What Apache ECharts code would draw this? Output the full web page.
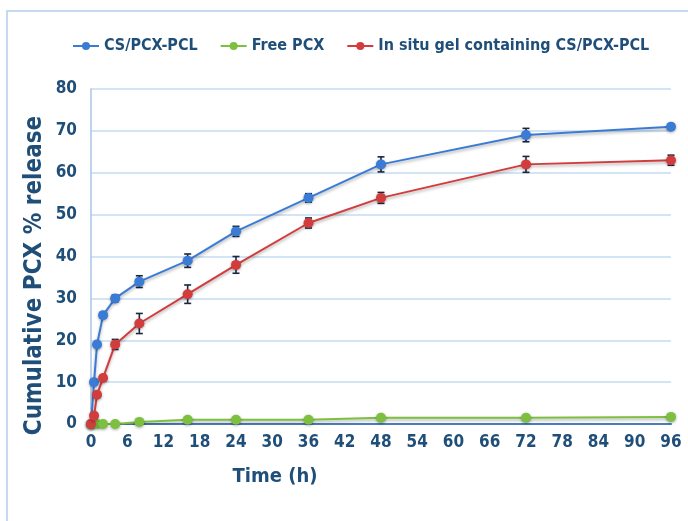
<!DOCTYPE html>
<html>
<head>
<meta charset="UTF-8">
<title>Cumulative PCX release</title>
<script src="https://cdn.jsdelivr.net/npm/echarts@6/dist/echarts.min.js"></script>
<style>
  html, body { margin: 0; padding: 0; background: #fff; }
  #chart { width: 688px; height: 521px; }
</style>
</head>
<body>
<div id="chart"></div>
<script>
// sampling times (h)
var timeBlue = [0, 0.5, 1, 2, 4, 8, 16, 24, 36, 48, 72, 96];
var valBlue  = [0, 10, 19, 26, 30, 34, 39, 46, 54, 62, 69, 71];
var errBlue  = [0, 0, 0, 0.6, 0.8, 1.4, 1.6, 1.2, 1.0, 1.8, 1.6, 0.6];

var timeRed = [0, 0.5, 1, 2, 4, 8, 16, 24, 36, 48, 72, 96];
var valRed  = [0, 2, 7, 11, 19, 24, 31, 38, 48, 54, 62, 63];
var errRed  = [0, 0, 0, 0.6, 1.2, 2.4, 2.2, 2.0, 1.2, 1.3, 1.9, 1.2];

var timeGreen = [0, 1, 2, 4, 8, 16, 24, 36, 48, 72, 96];
var valGreen  = [0, 0, 0, 0, 0.5, 1, 1, 1, 1.5, 1.5, 1.7];
var errGreen  = [0, 0, 0, 0, 0.4, 0.4, 0.4, 0.3, 0.3, 0.5, 0.3];

var names = ['CS/PCX-PCL', 'Free PCX', 'In situ gel containing CS/PCX-PCL'];
var colors = ['#3a7bd5', '#7dbf3f', '#d23c3c'];
var txt = '#1f4e79';
var font = "'DejaVu Sans Condensed', 'Liberation Sans Narrow', 'Noto Sans', sans-serif";

function pairs(t, v) {
  return t.map(function (x, i) { return [x, v[i]]; });
}
function errData(t, v, e) {
  return t.map(function (x, i) { return [x, v[i] - e[i], v[i] + e[i]]; });
}
function errSeries(t, v, e) {
  return {
    type: 'custom',
    silent: true,
    z: 3,
    data: errData(t, v, e),
    renderItem: function (params, api) {
      var lo = api.coord([api.value(0), api.value(1)]);
      var hi = api.coord([api.value(0), api.value(2)]);
      var w = 3.5;
      var st = { stroke: '#1a2740', lineWidth: 1.6 };
      return {
        type: 'group',
        children: [
          { type: 'line', shape: { x1: lo[0], y1: lo[1], x2: hi[0], y2: hi[1] }, style: st },
          { type: 'line', shape: { x1: lo[0] - w, y1: lo[1], x2: lo[0] + w, y2: lo[1] }, style: st },
          { type: 'line', shape: { x1: hi[0] - w, y1: hi[1], x2: hi[0] + w, y2: hi[1] }, style: st }
        ]
      };
    }
  };
}
function lineSeries(name, data, color) {
  return {
    name: name,
    type: 'line',
    data: data,
    symbol: 'circle',
    symbolSize: 10,
    z: 4,
    lineStyle: { color: color, width: 2, shadowColor: 'rgba(0,0,0,0.3)', shadowBlur: 3, shadowOffsetY: 2 },
    itemStyle: { color: color, shadowColor: 'rgba(0,0,0,0.35)', shadowBlur: 3, shadowOffsetY: 1 }
  };
}

var chart = echarts.init(document.getElementById('chart'));
chart.setOption({
  animation: false,
  color: colors,
  graphic: [{
    type: 'rect',
    shape: { x: 7, y: 11, width: 700, height: 540 },
    style: { fill: 'none', stroke: '#c5d9f0', lineWidth: 2 }
  }],
  legend: {
    top: 33,
    left: 67,
    itemGap: 22,
    itemWidth: 26,
    itemHeight: 10,
    data: names,
    textStyle: { color: txt, fontSize: 16, fontWeight: 'bold', fontFamily: font }
  },
  grid: { left: 91, right: 17, top: 89, bottom: 97 },
  xAxis: {
    type: 'value',
    min: 0, max: 96, interval: 6,
    name: 'Time (h)',
    nameLocation: 'middle',
    nameGap: 43,
    nameTextStyle: { color: txt, fontSize: 20, fontWeight: 'bold', fontFamily: font, padding: [0, 212, 0, 0] },
    axisLine: { lineStyle: { color: '#4a7ebb', width: 2 } },
    axisTick: { show: false },
    splitLine: { show: false },
    axisLabel: { color: txt, fontSize: 17, fontWeight: 'bold', fontFamily: font, margin: 10 }
  },
  yAxis: {
    type: 'value',
    min: 0, max: 80, interval: 10,
    name: 'Cumulative PCX % release',
    nameLocation: 'middle',
    nameGap: 44,
    nameMoveOverlap: false,
    nameTextStyle: { color: txt, fontSize: 24, fontWeight: 'bold', fontFamily: font, padding: [0, 38, 0, 0] },
    axisLine: { show: true, lineStyle: { color: '#a9c6e8', width: 1.5 } },
    axisTick: { show: false },
    splitLine: { lineStyle: { color: '#c5dbf0', width: 1.5 } },
    axisLabel: { color: txt, fontSize: 17, fontWeight: 'bold', fontFamily: font, margin: 14 }
  },
  series: [
    lineSeries(names[0], pairs(timeBlue, valBlue), colors[0]),
    lineSeries(names[1], pairs(timeGreen, valGreen), colors[1]),
    lineSeries(names[2], pairs(timeRed, valRed), colors[2]),
    errSeries(timeBlue, valBlue, errBlue),
    errSeries(timeGreen, valGreen, errGreen),
    errSeries(timeRed, valRed, errRed)
  ]
});
</script>
</body>
</html>
